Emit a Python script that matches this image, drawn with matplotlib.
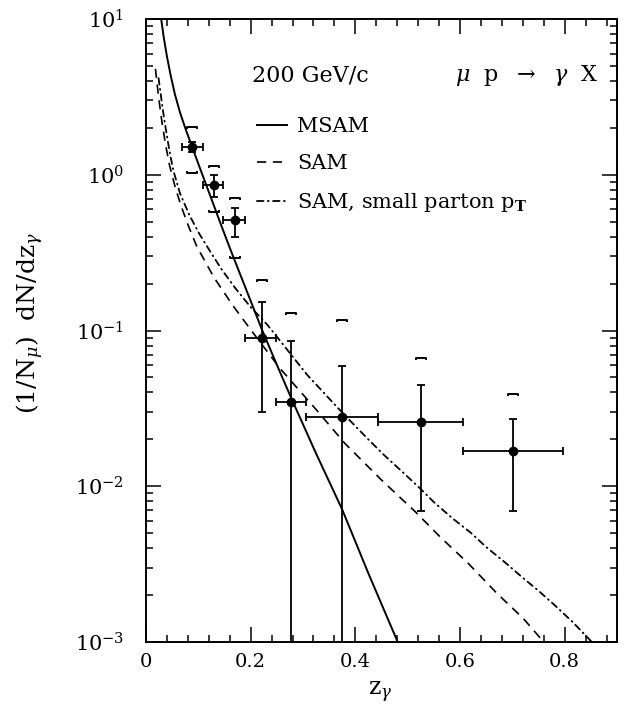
import numpy as np
import matplotlib
matplotlib.use("Agg")
import matplotlib.pyplot as plt
from matplotlib.path import Path
from matplotlib.ticker import LogLocator, MultipleLocator, NullFormatter

plt.rcParams['font.family'] = ['DejaVu Serif']
plt.rcParams['mathtext.fontset'] = 'dejavuserif'
plt.rcParams['axes.unicode_minus'] = False

# data points (z_gamma, rate) with bins, stat errors and systematic brackets
zg = [0.087, 0.129, 0.170, 0.221, 0.277, 0.374, 0.525, 0.701]
rate = [1.51, 0.86, 0.51, 0.090, 0.0348, 0.0279, 0.026, 0.0168]
bin_lo = [0.068, 0.109, 0.148, 0.189, 0.248, 0.305, 0.444, 0.605]
bin_hi = [0.109, 0.148, 0.190, 0.248, 0.305, 0.444, 0.605, 0.797]
stat_lo = [1.41, 0.72, 0.40, 0.030, 1e-4, 1e-4, 0.0069, 0.0069]
stat_hi = [1.63, 1.00, 0.61, 0.153, 0.0855, 0.059, 0.0446, 0.0269]
syst_hi = [2.03, 1.13, 0.705, 0.211, 0.130, 0.117, 0.067, 0.0394]
syst_lo = [1.03, 0.58, 0.29]

# model curves, log10 of dN/dz
msam_x = [0.029, 0.034, 0.040, 0.047, 0.055, 0.065, 0.076, 0.087, 0.100, 0.110,
          0.125, 0.141, 0.159, 0.180, 0.200, 0.221, 0.250, 0.277, 0.325, 0.375,
          0.425, 0.481]
msam_lg = [1.0, 0.88, 0.76, 0.64, 0.52, 0.40, 0.29, 0.19, 0.07, -0.02,
           -0.155, -0.30, -0.46, -0.64, -0.81, -0.99, -1.22, -1.43, -1.79, -2.15,
           -2.56, -3.0]

sam_x = [0.018, 0.024, 0.030, 0.037, 0.045, 0.055, 0.066, 0.080, 0.097, 0.130,
         0.166, 0.199, 0.256, 0.326, 0.380, 0.450, 0.515, 0.562, 0.616, 0.671,
         0.721, 0.760]
sam_lg = [0.68, 0.50, 0.35, 0.20, 0.06, -0.07, -0.19, -0.32, -0.46, -0.66,
          -0.84, -0.99, -1.243, -1.511, -1.725, -1.96, -2.165, -2.325, -2.496, -2.689,
          -2.849, -3.0]

small_x = [0.024, 0.028, 0.032, 0.038, 0.045, 0.052, 0.065, 0.083, 0.102, 0.124,
           0.145, 0.171, 0.200, 0.231, 0.256, 0.282, 0.308, 0.366, 0.396, 0.425,
           0.455, 0.489, 0.521, 0.551, 0.586, 0.620, 0.651, 0.685, 0.718, 0.751,
           0.783, 0.815, 0.852]
small_lg = [0.62, 0.52, 0.42, 0.29, 0.15, 0.03, -0.12, -0.26, -0.38, -0.50,
            -0.61, -0.73, -0.85, -0.96, -1.065, -1.175, -1.285, -1.495, -1.600, -1.700,
            -1.800, -1.905, -2.005, -2.105, -2.207, -2.297, -2.393, -2.486, -2.582, -2.674,
            -2.770, -2.871, -3.0]

fig = plt.figure(figsize=(6.27, 7.11), dpi=100)
ax = fig.add_axes([146/627, 1-642/711, 471/627, 623/711])

ax.plot(msam_x, 10**np.array(msam_lg), color='k', lw=1.4, label='MSAM')
ax.plot(sam_x, 10**np.array(sam_lg), color='k', lw=1.2, ls=(0, (5.5, 4)), label='SAM')
ax.plot(small_x, 10**np.array(small_lg), color='k', lw=1.3, ls=(0, (3.6, 2.4, 0.5, 2.4)),
        dash_capstyle='round', label=r'SAM, small parton p$_{\mathbf{T}}$')

zg_a = np.array(zg)
rate_a = np.array(rate)
xerr = [zg_a - np.array(bin_lo), np.array(bin_hi) - zg_a]
yerr = [rate_a - np.array(stat_lo), np.array(stat_hi) - rate_a]
ax.errorbar(zg, rate, xerr=xerr, yerr=yerr, fmt='o', color='k', ms=6,
            elinewidth=1.3, capsize=3, capthick=1.3)

# systematic brackets
top_br = Path([(-1, -0.45), (-1, 0), (1, 0), (1, -0.45)],
              [Path.MOVETO, Path.LINETO, Path.LINETO, Path.LINETO])
bot_br = Path([(-1, 0.45), (-1, 0), (1, 0), (1, 0.45)],
              [Path.MOVETO, Path.LINETO, Path.LINETO, Path.LINETO])
ax.plot(zg, syst_hi, ls='none', marker=top_br, ms=7.5, mfc='none', mec='k', mew=1.4)
ax.plot(zg[:3], syst_lo, ls='none', marker=bot_br, ms=7.5, mfc='none', mec='k', mew=1.4)

ax.set_yscale('log')
ax.set_xlim(0, 0.9)
ax.set_ylim(1e-3, 1e1)
ax.xaxis.set_minor_locator(MultipleLocator(0.04))
ax.set_xticks([0, 0.2, 0.4, 0.6, 0.8])
ax.set_xticklabels(['0', '0.2', '0.4', '0.6', '0.8'])
ax.yaxis.set_major_locator(LogLocator(base=10, numticks=10))
ax.yaxis.set_minor_locator(LogLocator(base=10, subs=np.arange(2, 10), numticks=20))
ax.yaxis.set_minor_formatter(NullFormatter())

ax.tick_params(which='both', direction='in', top=True, right=True, width=1.1)
ax.tick_params(which='major', length=11)
ax.tick_params(which='minor', length=5)
ax.tick_params(axis='x', labelsize=14, pad=8)
ax.tick_params(axis='y', labelsize=15, pad=16)
for s in ax.spines.values():
    s.set_linewidth(1.4)

ax.set_xlabel(r'z$_\gamma$', fontsize=17)
ax.xaxis.set_label_coords(0.497, -0.06)
ax.set_ylabel(r'$\left(1/\mathrm{N}_\mu\right)\ \ \mathrm{dN/dz}_\gamma$', fontsize=18)
ax.yaxis.set_label_coords(-0.212, 0.512)

ax.text(0.225, 0.91, '200 GeV/c', transform=ax.transAxes, fontsize=16, va='center')
ax.text(0.656, 0.91, r'$\mu$  p  $\rightarrow$  $\gamma$  X', transform=ax.transAxes,
        fontsize=16, va='center')

ax.legend(loc='upper left', bbox_to_anchor=(0.2357, 0.842), frameon=False, fontsize=15,
          handlelength=1.45, handletextpad=0.47, labelspacing=0.85, borderpad=0,
          borderaxespad=0)

fig.savefig('out.png', dpi=100)
